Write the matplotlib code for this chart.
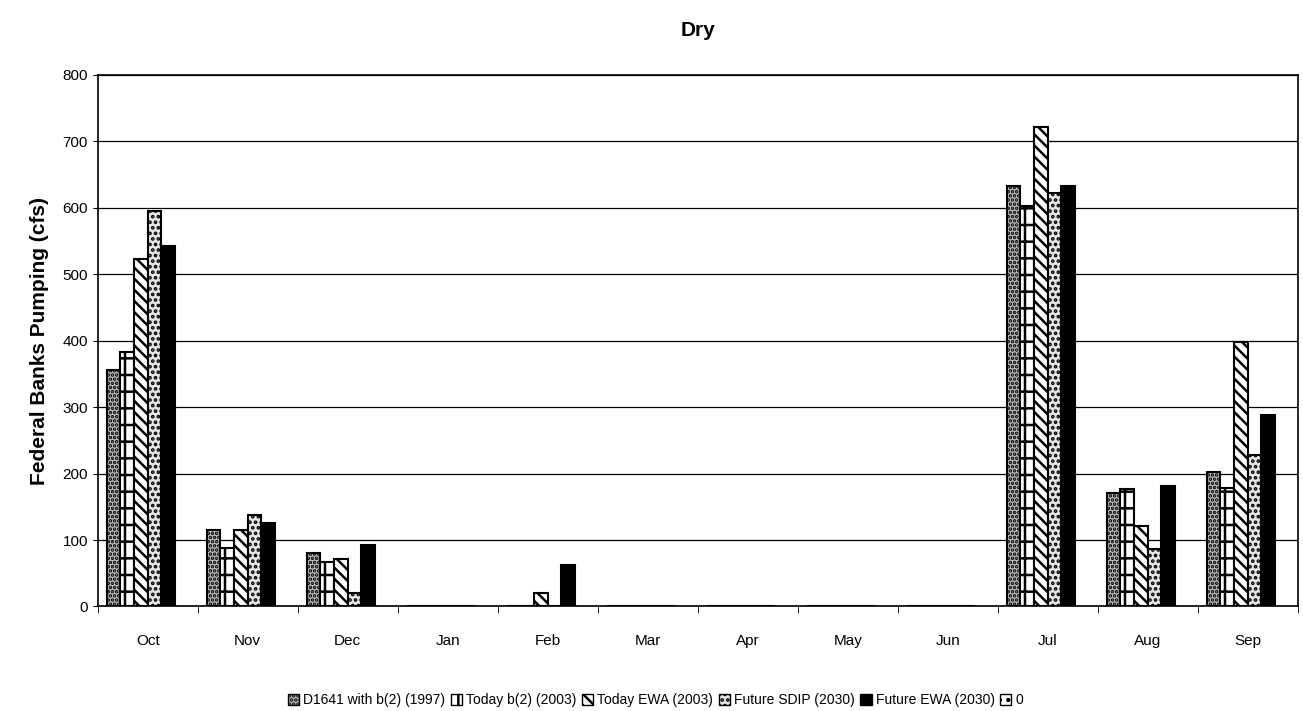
import numpy as np
import matplotlib.pyplot as plt

months = ['Oct', 'Nov', 'Dec', 'Jan', 'Feb', 'Mar', 'Apr', 'May', 'Jun', 'Jul', 'Aug', 'Sep']
series_names = ['D1641 with b(2) (1997)', 'Today b(2) (2003)', 'Today EWA (2003)',
                'Future SDIP (2030)', 'Future EWA (2030)', '0']

d1641 = [355, 115, 81, 0, 0, 0, 0, 0, 0, 632, 170, 203]
today_b2 = [383, 88, 67, 0, 0, 0, 0, 0, 0, 603, 177, 178]
today_ewa = [523, 115, 72, 0, 20, 0, 0, 0, 0, 722, 121, 398]
future_sdip = [595, 137, 20, 0, 0, 0, 0, 0, 0, 622, 87, 228]
future_ewa = [542, 125, 92, 0, 62, 0, 0, 0, 0, 632, 181, 288]
zero = [0] * 12

values = [d1641, today_b2, today_ewa, future_sdip, future_ewa, zero]
faces = ['#bdbdbd', 'white', 'white', '#e6e6e6', 'black', 'white']
hatches = ['....', '+', '\\\\\\', '...', '', '..']

plt.rcParams['font.family'] = ['Liberation Sans', 'DejaVu Sans']
plt.rcParams['hatch.linewidth'] = 1.8

fig = plt.figure(figsize=(13.03, 7.11), dpi=100)
ax = fig.add_axes([0.075, 0.147, 0.921, 0.748])

x = np.arange(len(months))
w = 0.136
for i, (vals, fc, h) in enumerate(zip(values, faces, hatches)):
    lw = 0 if i == 5 else 1.5
    ax.bar(x - 0.41 + w * (i + 0.5), vals, w, color=fc, hatch=h,
           edgecolor='black', linewidth=lw, label=series_names[i], zorder=3)

ax.set_xlim(-0.5, 11.5)
ax.set_ylim(0, 800)
ax.set_yticks(range(0, 801, 100))
ax.set_xticks(x)
ax.set_xticklabels(months)
ax.set_xticks(np.arange(-0.5, 12, 1), minor=True)
ax.tick_params(axis='x', which='major', length=0, pad=20)
ax.tick_params(axis='x', which='minor', length=5)
ax.tick_params(labelsize=11)
ax.yaxis.grid(True, color='black', linewidth=0.9, zorder=0)
ax.set_axisbelow(True)
for s in ax.spines.values():
    s.set_linewidth(1.2)

ax.set_ylabel('Federal Banks Pumping (cfs)', fontsize=15, fontweight='bold', labelpad=10)
ax.set_title('Dry', fontsize=15, fontweight='bold', pad=28)

leg = ax.legend(loc='upper center', bbox_to_anchor=(0.465, -0.14), ncol=6, frameon=False,
                fontsize=10, handlelength=0.8, handleheight=0.8, handletextpad=0.3,
                columnspacing=0.4)
for p in leg.get_patches():
    p.set_linewidth(1)

fig.savefig('out.png', dpi=100)
